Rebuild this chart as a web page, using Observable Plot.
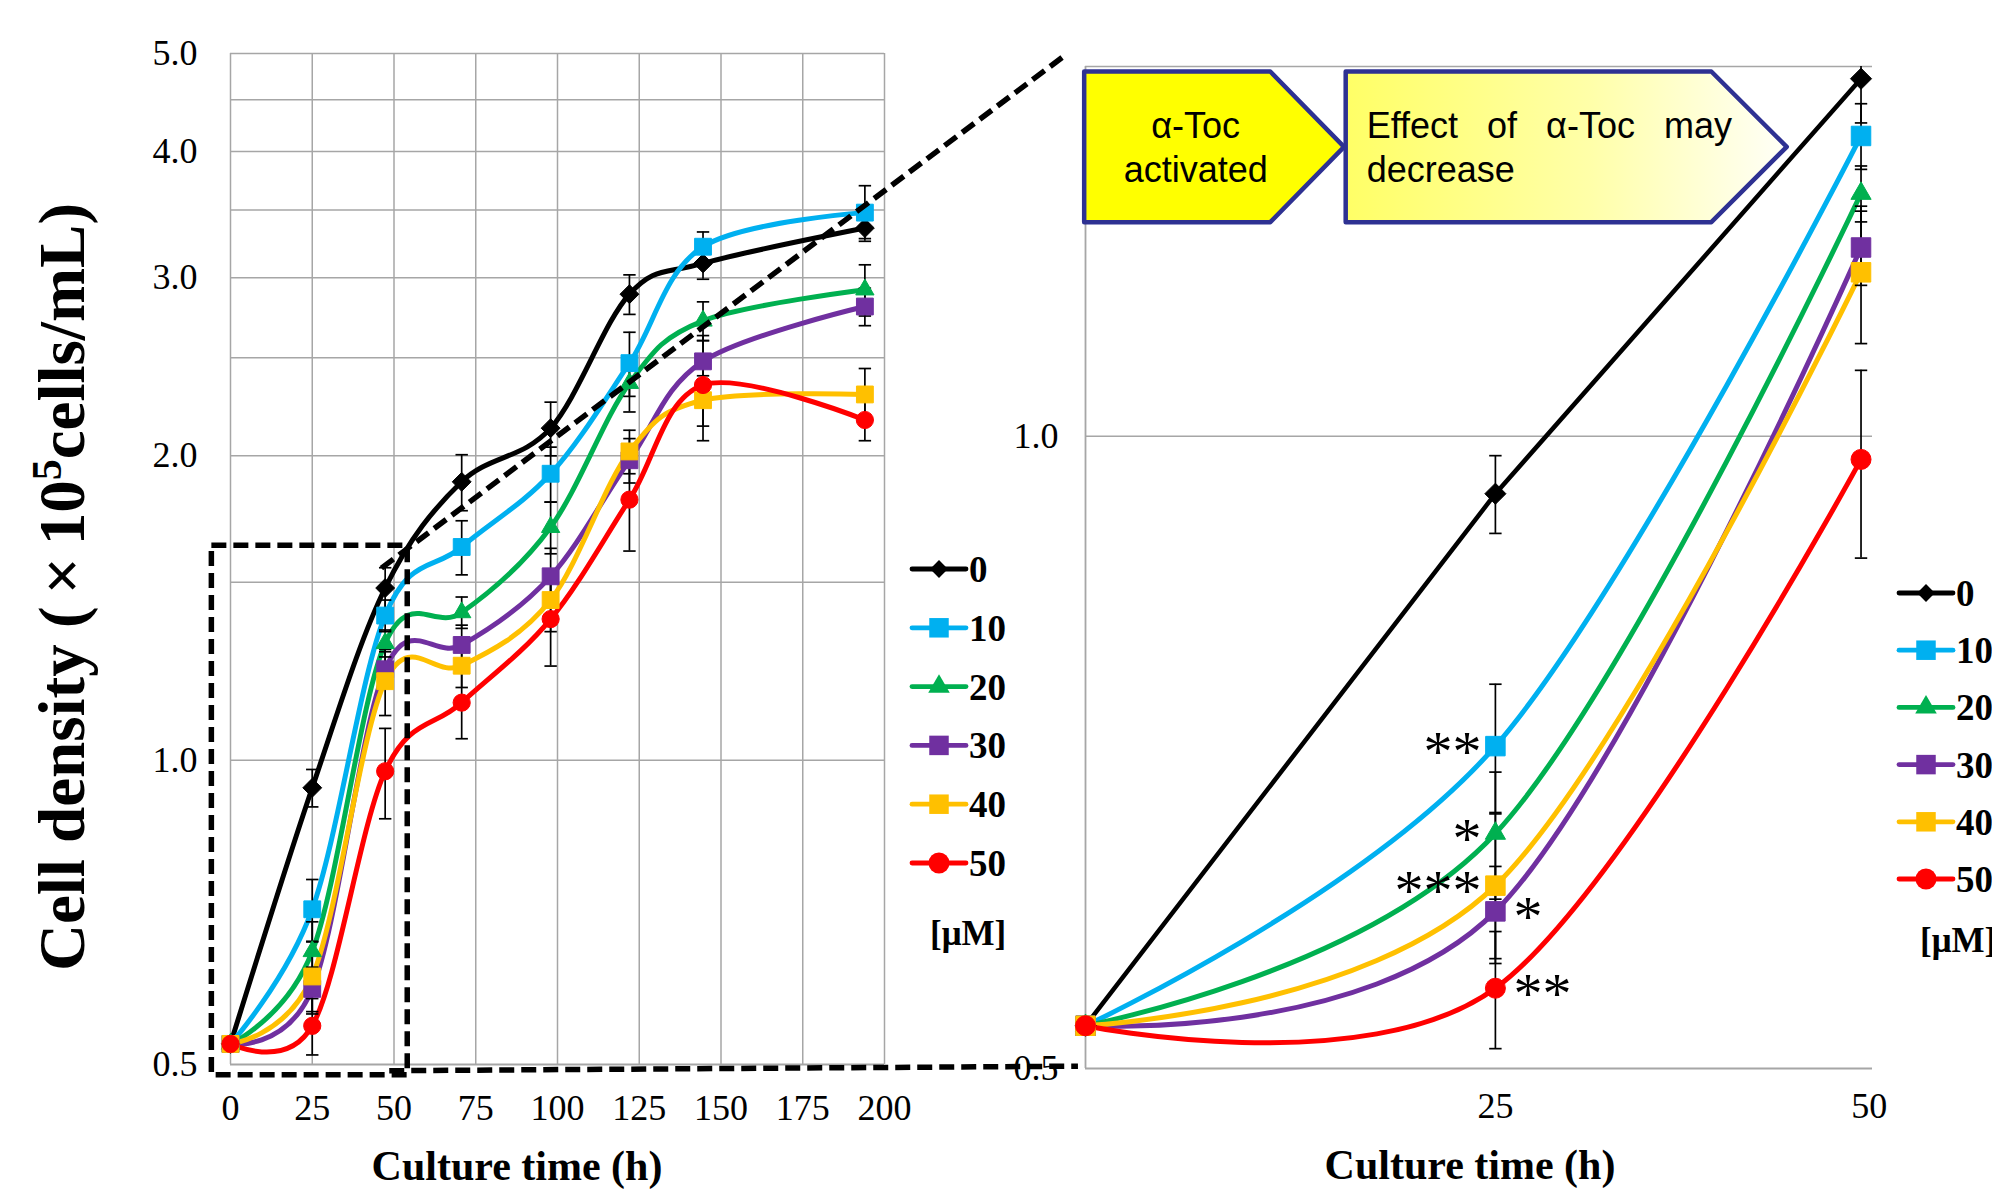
<!DOCTYPE html>
<html>
<head>
<meta charset="utf-8">
<script src="https://cdn.jsdelivr.net/npm/d3@7"></script>
<script src="https://cdn.jsdelivr.net/npm/@observablehq/plot@0.6"></script>
<style>
  html, body { margin: 0; padding: 0; background: #ffffff; overflow: hidden; }
  #page { position: relative; width: 1992px; height: 1190px; overflow: hidden; background: #ffffff; }
  #left, #right { position: absolute; top: 0; }
  #left { left: 0; }
  #right { left: 1000px; }
  #overlay { position: absolute; left: 0; top: 0; pointer-events: none; }
</style>
</head>
<body>
<div id="page">
  <div id="left"></div>
  <div id="right"></div>
  <svg id="overlay" width="1992" height="1190"></svg>
</div>
<script>
// ---------------- DATA ----------------
const times = [0, 25, 47.3, 70.7, 97.9, 122, 144.5, 194];           // culture time (h)
const concentrations = ["0", "10", "20", "30", "40", "50"];          // α-Toc [µM]
const density0  = [0.524, 0.939, 1.48,  1.885, 2.13,  2.89, 3.10, 3.36];
const density10 = [0.524, 0.712, 1.39,  1.625, 1.92,  2.47, 3.22, 3.48];
const density20 = [0.524, 0.647, 1.305, 1.40,  1.70,  2.36, 2.72, 2.92];
const density30 = [0.524, 0.594, 1.23,  1.30,  1.52,  1.98, 2.48, 2.81];
const density40 = [0.524, 0.611, 1.197, 1.24,  1.44,  2.02, 2.27, 2.30];
const density50 = [0.524, 0.546, 0.975, 1.14,  1.379, 1.81, 2.35, 2.17];
const sd0  = [0, 0.04,  0.07, 0.12, 0.13, 0.13, 0.11, 0.08];
const sd10 = [0, 0.05,  0.05, 0.10, 0.12, 0.18, 0.11, 0.22];
const sd20 = [0, 0.045, 0.04, 0.05, 0.10, 0.15, 0.12, 0.17];
const sd30 = [0, 0.03,  0.05, 0.06, 0.10, 0.10, 0.12, 0.12];
const sd40 = [0, 0.05,  0.09, 0.06, 0.10, 0.10, 0.13, 0.14];
const sd50 = [0, 0.035, 0.10, 0.09, 0.14, 0.20, 0.28, 0.10];
const significanceAt25 = ["", "**", "*", "*", "***", "**"];
const significanceSide = ["", "left", "left", "right", "left", "right"];

const leftXTicks = [0, 25, 50, 75, 100, 125, 150, 175, 200];
const leftYTicks = [0.5, 1, 2, 3, 4, 5];
const leftYGrid = [1, 1.5, 2, 2.5, 3, 3.5, 4, 4.5, 5];
const rightXTicks = [25, 47.8];
const rightXTickLabels = ["25", "50"];
const rightYTicks = [0.5, 1];
const rightYGrid = [1, 1.5];
const zoomedTimeCount = 3; // the right panel enlarges the first three time points

const legendUnit = "[μM]";
const xTitle = "Culture time (h)";
const boxText1 = ["α-Toc", "activated"];
const boxText2 = ["Effect of α-Toc may", "decrease"];

// ---------------- STYLE ----------------
const seriesColors = ["#000000", "#00B0F0", "#00B050", "#7030A0", "#FFC000", "#FF0000"];
const symbolNames = ["diamond2", "square", "triangle", "square", "square", "circle"];
const leftR  = {diamond2: 8.5, square: 9.5, triangle: 6.8, circle: 8.6};
const rightR = {diamond2: 9.5, square: 11, triangle: 7.5, circle: 10};
const legendR = {diamond2: 8, square: 11, triangle: 8, circle: 10.5};
const serif = "'Liberation Serif','Times New Roman',Times,serif";
const sans = "'Liberation Sans',Arial,Helvetica,sans-serif";
const gridColor = "#A6A6A6";

const densities = [density0, density10, density20, density30, density40, density50];
const sds = [sd0, sd10, sd20, sd30, sd40, sd50];

const rows = [];
concentrations.forEach((c, i) => times.forEach((t, j) => rows.push({conc: c, si: i, ti: j, t, v: densities[i][j], sd: sds[i][j]})));
const errRows = rows.filter(d => d.sd > 0);
const zoomRows = rows.filter(d => d.ti < zoomedTimeCount);
const zoomErr = zoomRows.filter(d => d.sd > 0);
const sigRows = zoomRows.filter(d => d.ti === 1 && significanceAt25[d.si]).map(d => ({...d, sig: significanceAt25[d.si], side: significanceSide[d.si]}));

const capSymbol = {
  draw(ctx, size) { const h = Math.sqrt(size) / 2; ctx.moveTo(-h, 0); ctx.lineTo(h, 0); }
};

function seriesDots(data, rmap) {
  return concentrations.map((c, i) => Plot.dot(data.filter(d => d.conc === c), {
    x: "t", y: "v", symbol: symbolNames[i], r: rmap[symbolNames[i]],
    fill: seriesColors[i], stroke: seriesColors[i], strokeWidth: 1
  }));
}
function errorMarks(data, clip) {
  return [
    Plot.ruleX(data, {x: "t", y1: d => d.v - d.sd, y2: d => d.v + d.sd, stroke: "#000", strokeWidth: 1.7, clip}),
    Plot.dot(data, {x: "t", y: d => d.v + d.sd, symbol: capSymbol, r: 7, fill: "none", stroke: "#000", strokeWidth: 1.7, clip}),
    Plot.dot(data, {x: "t", y: d => d.v - d.sd, symbol: capSymbol, r: 7, fill: "none", stroke: "#000", strokeWidth: 1.7, clip})
  ];
}

// ---------------- LEFT PANEL ----------------
const leftPlot = Plot.plot({
  width: 1000, height: 1190,
  marginLeft: 230, marginRight: 116, marginTop: 53, marginBottom: 126,
  x: {domain: [0, 200]},
  y: {type: "log", domain: [0.5, 5]},
  color: {domain: concentrations, range: seriesColors},
  style: {fontFamily: serif, background: "transparent", color: "#000", overflow: "visible"},
  marks: [
    Plot.gridX(leftXTicks, {stroke: gridColor, strokeOpacity: 1, strokeWidth: 1.5}),
    Plot.gridY(leftYGrid, {stroke: gridColor, strokeOpacity: 1, strokeWidth: 1.5}),
    Plot.ruleY([0.5], {stroke: gridColor, strokeWidth: 1.8}),
    Plot.axisX(leftXTicks, {tickSize: 0, tickPadding: 30, fontSize: 36, label: null, tickFormat: d => String(d)}),
    Plot.axisY(leftYTicks, {tickSize: 0, tickPadding: 33, fontSize: 36, label: null, tickFormat: d => d.toFixed(1)}),
    Plot.line(rows, {x: "t", y: "v", z: "conc", stroke: "conc", curve: "cardinal", strokeWidth: 5}),
    ...errorMarks(errRows, false),
    ...seriesDots(rows, leftR)
  ]
});
document.getElementById("left").appendChild(leftPlot);

// ---------------- RIGHT PANEL ----------------
const rightTickLabel = new Map(rightXTicks.map((t, i) => [t, rightXTickLabels[i]]));
const rightPlot = Plot.plot({
  width: 992, height: 1190,
  marginLeft: 85, marginRight: 120, marginTop: 66, marginBottom: 122,
  x: {domain: [0, 48]},
  y: {type: "log", domain: [0.5, 1.5]},
  color: {domain: concentrations, range: seriesColors},
  style: {fontFamily: serif, background: "transparent", color: "#000", overflow: "visible"},
  marks: [
    Plot.ruleY(rightYGrid, {stroke: gridColor, strokeWidth: 1.5}),
    Plot.ruleY([0.5], {stroke: gridColor, strokeWidth: 1.8}),
    Plot.ruleX([0], {stroke: gridColor, strokeWidth: 1.8}),
    Plot.axisX(rightXTicks, {tickSize: 0, tickPadding: 24, fontSize: 36, label: null, tickFormat: d => rightTickLabel.get(d)}),
    Plot.axisY(rightYTicks, {tickSize: 0, tickPadding: 27, fontSize: 36, label: null, tickFormat: d => d.toFixed(1)}),
    Plot.line(zoomRows.filter(d => d.si === 0), {x: "t", y: "v", stroke: seriesColors[0], curve: "linear", strokeWidth: 4.5, clip: true}),
    Plot.line(zoomRows.filter(d => d.si > 0), {x: "t", y: "v", z: "conc", stroke: "conc", curve: "cardinal", strokeWidth: 5, clip: true}),
    ...errorMarks(zoomErr, true),
    ...seriesDots(zoomRows, rightR),
    Plot.text(sigRows.filter(d => d.side === "left"), {x: "t", y: "v", text: "sig", textAnchor: "end", dx: -14, dy: 6, fontSize: 58, fontFamily: serif, fill: "#000"}),
    Plot.text(sigRows.filter(d => d.side === "right"), {x: "t", y: "v", text: "sig", textAnchor: "start", dx: 18, dy: 6, fontSize: 58, fontFamily: serif, fill: "#000"})
  ]
});
document.getElementById("right").appendChild(rightPlot);

// ---------------- OVERLAY ----------------
const svg = d3.select("#overlay");
const lx = leftPlot.scale("x"), ly = leftPlot.scale("y");
const rx = rightPlot.scale("x"), ry = rightPlot.scale("y");
const LX = v => lx.apply(v), LY = v => ly.apply(v);
const RX = v => rx.apply(v) + 1000, RY = v => ry.apply(v);

// gradient for second chevron
const defs = svg.append("defs");
const grad = defs.append("linearGradient").attr("id", "fadeYellow").attr("x1", "0").attr("x2", "1").attr("y1", "0").attr("y2", "0");
grad.append("stop").attr("offset", "0").attr("stop-color", "#FFFF66");
grad.append("stop").attr("offset", "0.55").attr("stop-color", "#FFFFA8");
grad.append("stop").attr("offset", "1").attr("stop-color", "#FFFFF8");

// zoom box and connectors (in panel data coordinates)
const dash = {stroke: "#000", "stroke-width": 5.5, "stroke-dasharray": "15 7", fill: "none"};
function applyAttrs(sel, o) { Object.entries(o).forEach(([k, v]) => sel.attr(k, v)); return sel; }
const zb = {x0: -5.7, x1: 54.2, y0: 0.488, y1: 1.63};
applyAttrs(svg.append("rect")
  .attr("x", LX(zb.x0)).attr("y", LY(zb.y1))
  .attr("width", LX(zb.x1) - LX(zb.x0)).attr("height", LY(zb.y0) - LY(zb.y1)), dash);
applyAttrs(svg.append("line")
  .attr("x1", LX(46.3)).attr("y1", LY(1.547)).attr("x2", RX(-1.4)).attr("y2", RY(1.514)), dash);
applyAttrs(svg.append("line")
  .attr("x1", LX(48.7)).attr("y1", LY(0.4924)).attr("x2", RX(-0.43)).attr("y2", RY(0.501)), dash);

// chevrons (right-panel data coordinates)
function chevron(x0, xr, xp, fill) {
  const yt = RY(1.491), yb = RY(1.264), ym = (yt + yb) / 2;
  const pts = [[RX(x0), yt], [RX(xr), yt], [RX(xp), ym], [RX(xr), yb], [RX(x0), yb]];
  svg.append("polygon").attr("points", pts.map(p => p.join(",")).join(" "))
    .attr("fill", fill).attr("stroke", "#2E3192").attr("stroke-width", 4.5).attr("stroke-linejoin", "round");
  return {yt, yb, ym, left: RX(x0), right: RX(xr), point: RX(xp)};
}
const c1 = chevron(-0.05, 11.3, 15.8, "#FFFF00");
const c2 = chevron(15.9, 38.2, 42.8, "url(#fadeYellow)");
const c1cx = (c1.left + c1.right) / 2 + (c1.point - c1.right) / 4;
boxText1.forEach((s, i) => svg.append("text").attr("x", c1cx).attr("y", c1.ym - 9 + i * 44)
  .attr("text-anchor", "middle").attr("font-family", sans).attr("font-size", 36).text(s));
svg.append("text").attr("x", c2.left + 21).attr("y", c2.ym - 9)
  .attr("font-family", sans).attr("font-size", 36).style("word-spacing", "19px").text(boxText2[0]);
svg.append("text").attr("x", c2.left + 21).attr("y", c2.ym + 35)
  .attr("font-family", sans).attr("font-size", 36).text(boxText2[1]);

// legends
function legend(x0, y0, step, unitX, unitY) {
  concentrations.forEach((c, i) => {
    const y = y0 + i * step;
    svg.append("line").attr("x1", x0).attr("x2", x0 + 54).attr("y1", y).attr("y2", y)
      .attr("stroke", seriesColors[i]).attr("stroke-width", 4.8).attr("stroke-linecap", "round");
    const sym = {diamond2: d3.symbolDiamond2, square: d3.symbolSquare, triangle: d3.symbolTriangle, circle: d3.symbolCircle}[symbolNames[i]];
    const r = legendR[symbolNames[i]];
    svg.append("path").attr("d", d3.symbol(sym, Math.PI * r * r)()).attr("transform", `translate(${x0 + 27},${y})`)
      .attr("fill", seriesColors[i]);
    svg.append("text").attr("x", x0 + 57).attr("y", y).attr("dy", "0.35em")
      .attr("font-family", serif).attr("font-weight", "bold").attr("font-size", 37).text(c);
  });
  svg.append("text").attr("x", unitX).attr("y", unitY).attr("dy", "0.35em")
    .attr("font-family", serif).attr("font-weight", "bold").attr("font-size", 35).text(legendUnit);
}
legend(912, 569, 58.8, 930, 933);
legend(1899, 593, 57.2, 1920, 940);

// axis titles
svg.append("text").attr("x", 517).attr("y", 1180).attr("text-anchor", "middle")
  .attr("font-family", serif).attr("font-weight", "bold").attr("font-size", 42).text(xTitle);
svg.append("text").attr("x", 1470).attr("y", 1179).attr("text-anchor", "middle")
  .attr("font-family", serif).attr("font-weight", "bold").attr("font-size", 42).text(xTitle);

const yt = svg.append("text").attr("transform", "translate(84,587) rotate(-90)").attr("text-anchor", "middle")
  .attr("font-family", serif).attr("font-weight", "bold").attr("font-size", 65);
yt.append("tspan").text("Cell density (");
yt.append("tspan").attr("dx", 12).text("×");
yt.append("tspan").attr("dx", 12).text("10");
yt.append("tspan").attr("dy", -23).attr("font-size", 42).text("5");
yt.append("tspan").attr("dy", 23).text("cells/mL)");
</script>
</body>
</html>
